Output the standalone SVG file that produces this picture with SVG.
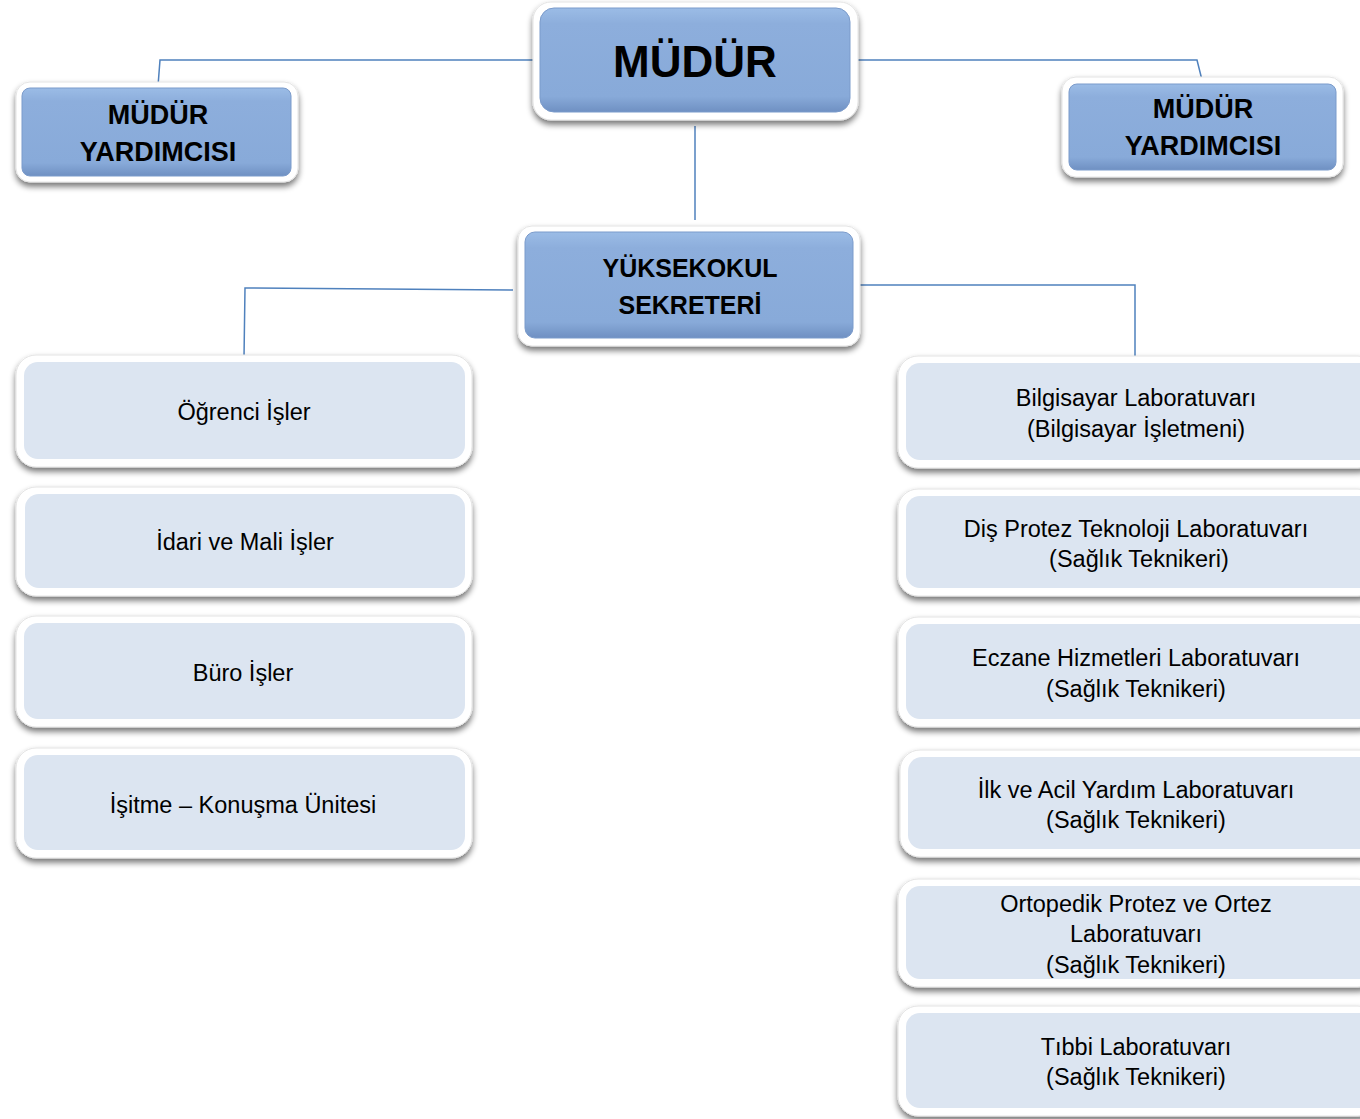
<svg xmlns="http://www.w3.org/2000/svg" width="1360" height="1119" viewBox="0 0 1360 1119">
<defs>
<linearGradient id="blue" x1="0" y1="0" x2="0" y2="1">
<stop offset="0" stop-color="#9bbce6"/>
<stop offset="0.15" stop-color="#8daedc"/>
<stop offset="0.85" stop-color="#88aad9"/>
<stop offset="1" stop-color="#6f90c2"/>
</linearGradient>
<filter id="sh" x="-5%" y="-10%" width="110%" height="130%">
<feGaussianBlur in="SourceAlpha" stdDeviation="3"/>
<feOffset dx="0" dy="4"/>
<feComponentTransfer><feFuncA type="linear" slope="0.55"/></feComponentTransfer>
<feMerge><feMergeNode/><feMergeNode in="SourceGraphic"/></feMerge>
</filter>
</defs>
<style>
.frame{fill:#ffffff;stroke:#e4e4e4;stroke-width:1;filter:url(#sh)}
.hdr{fill:url(#blue);stroke:#7b9bcb;stroke-width:1}
.sub{fill:#dce5f1}
.ht{font-family:"Liberation Sans",Arial,sans-serif;font-weight:bold;fill:#000;text-anchor:middle}
.bt{font-family:"Liberation Sans",Arial,sans-serif;font-size:23.5px;fill:#000;text-anchor:middle}
.con{fill:none;stroke:#4f81bd;stroke-width:1.5}
</style>
<rect width="1360" height="1119" fill="#ffffff"/>
<g id="connectors">
<polyline class="con" points="538,60 160,60 158,86"/>
<polyline class="con" points="853,60 1197,60 1202,80"/>
<line class="con" x1="695" y1="126" x2="695" y2="220"/>
<polyline class="con" points="513,290 245,288 244,358"/>
<polyline class="con" points="853,285 1135,285 1135,358"/>
</g>
<g id="mudur">
<rect class="frame" x="533" y="2" width="325" height="118" rx="18"/>
<rect class="hdr" x="540" y="8" width="310" height="104" rx="14"/>
<text class="ht" x="695" y="77" font-size="44">MÜDÜR</text>
</g>
<g id="mudur-yardimcisi-left">
<rect class="frame" x="16" y="82" width="282" height="100" rx="14"/>
<rect class="hdr" x="22" y="88" width="269" height="88" rx="8"/>
<text class="ht" x="158" y="124" font-size="27">MÜDÜR</text>
<text class="ht" x="158" y="161" font-size="27">YARDIMCISI</text>
</g>
<g id="mudur-yardimcisi-right">
<rect class="frame" x="1062" y="77" width="281" height="100" rx="14"/>
<rect class="hdr" x="1069" y="84" width="267" height="86" rx="8"/>
<text class="ht" x="1203" y="118" font-size="27">MÜDÜR</text>
<text class="ht" x="1203" y="155" font-size="27">YARDIMCISI</text>
</g>
<g id="yuksekokul-sekreteri">
<rect class="frame" x="518" y="226" width="342" height="120" rx="14"/>
<rect class="hdr" x="525" y="232" width="328" height="106" rx="10"/>
<text class="ht" x="690" y="277" font-size="25">YÜKSEKOKUL</text>
<text class="ht" x="690" y="314" font-size="25">SEKRETERİ</text>
</g>
<g id="ogrenci-isler">
<rect class="frame" x="16" y="355" width="456" height="112" rx="20"/>
<rect class="sub" x="24" y="362" width="441" height="97" rx="14"/>
<text class="bt" x="244" y="420">Öğrenci İşler</text>
</g>
<g id="idari-mali">
<rect class="frame" x="16" y="487" width="456" height="109" rx="20"/>
<rect class="sub" x="25" y="494" width="440" height="94" rx="14"/>
<text class="bt" x="245" y="550">İdari ve Mali İşler</text>
</g>
<g id="buro-isler">
<rect class="frame" x="16" y="616" width="456" height="111" rx="20"/>
<rect class="sub" x="24" y="623" width="441" height="96" rx="14"/>
<text class="bt" x="243" y="681">Büro İşler</text>
</g>
<g id="isitme-konusma">
<rect class="frame" x="16" y="748" width="456" height="110" rx="20"/>
<rect class="sub" x="24" y="755" width="441" height="95" rx="14"/>
<text class="bt" x="243" y="813">İşitme – Konuşma Ünitesi</text>
</g>
<g id="bilgisayar-lab">
<rect class="frame" x="898" y="356" width="480" height="112" rx="20"/>
<rect class="sub" x="906" y="363" width="470" height="97" rx="14"/>
<text class="bt" x="1136" y="406">Bilgisayar Laboratuvarı</text>
<text class="bt" x="1136" y="437">(Bilgisayar İşletmeni)</text>
</g>
<g id="dis-protez-lab">
<rect class="frame" x="898" y="489" width="480" height="107" rx="20"/>
<rect class="sub" x="906" y="496" width="470" height="92" rx="14"/>
<text class="bt" x="1136" y="537">Diş Protez Teknoloji Laboratuvarı</text>
<text class="bt" x="1139" y="567">(Sağlık Teknikeri)</text>
</g>
<g id="eczane-lab">
<rect class="frame" x="898" y="617" width="480" height="110" rx="20"/>
<rect class="sub" x="906" y="624" width="470" height="95" rx="14"/>
<text class="bt" x="1136" y="666">Eczane Hizmetleri Laboratuvarı</text>
<text class="bt" x="1136" y="697">(Sağlık Teknikeri)</text>
</g>
<g id="ilk-acil-lab">
<rect class="frame" x="900" y="750" width="480" height="107" rx="20"/>
<rect class="sub" x="908" y="757" width="470" height="92" rx="14"/>
<text class="bt" x="1136" y="798">İlk ve Acil Yardım Laboratuvarı</text>
<text class="bt" x="1136" y="828">(Sağlık Teknikeri)</text>
</g>
<g id="ortopedik-lab">
<rect class="frame" x="898" y="879" width="480" height="108" rx="20"/>
<rect class="sub" x="906" y="886" width="470" height="93" rx="14"/>
<text class="bt" x="1136" y="912">Ortopedik Protez ve Ortez</text>
<text class="bt" x="1136" y="942">Laboratuvarı</text>
<text class="bt" x="1136" y="973">(Sağlık Teknikeri)</text>
</g>
<g id="tibbi-lab">
<rect class="frame" x="898" y="1006" width="480" height="110" rx="20"/>
<rect class="sub" x="906" y="1013" width="470" height="95" rx="14"/>
<text class="bt" x="1136" y="1055">Tıbbi Laboratuvarı</text>
<text class="bt" x="1136" y="1085">(Sağlık Teknikeri)</text>
</g>
</svg>
